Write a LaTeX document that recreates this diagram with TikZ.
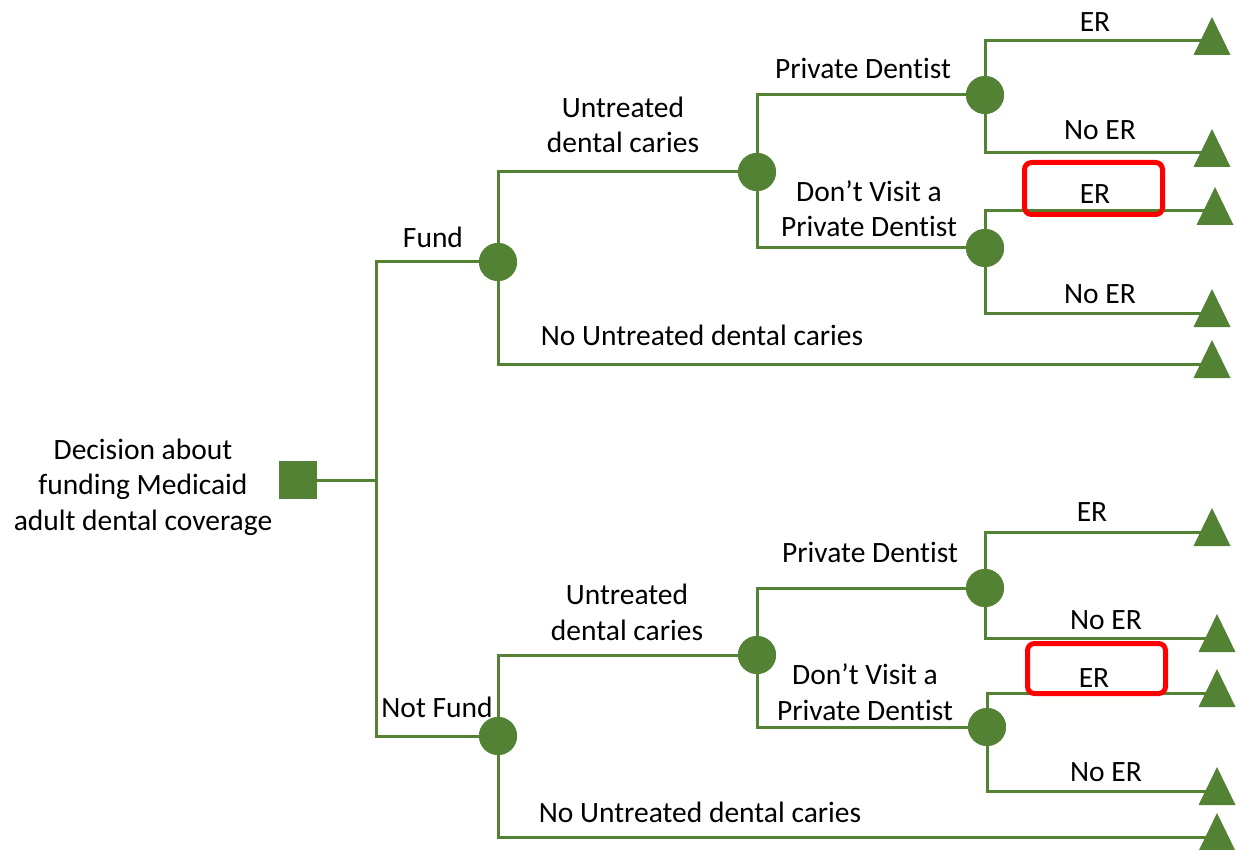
\documentclass[tikz,border=0pt]{standalone}
\usepackage{fontspec}
\setmainfont[Ligatures={NoCommon}]{Carlito}
\definecolor{tg}{HTML}{548235}
\definecolor{hlred}{HTML}{FF0000}
\tikzset{
  br/.style={draw=tg, line width=3pt},
  chance/.style={circle, fill=tg, minimum size=38pt, inner sep=0pt},
  decsq/.style={rectangle, fill=tg, minimum size=38pt, inner sep=0pt},
  lbl/.style={font=\fontsize{29.5}{35.5}\selectfont, inner sep=0pt, anchor=base, align=center},
  hlbox/.style={draw=hlred, line width=5pt, rounded corners=7pt},
  leaf/.pic={\fill[tg] (-18.5,14) -- (0,-24) -- (18.5,14) -- cycle;}
}
\begin{document}
\begin{tikzpicture}[x=1pt,y=-1pt]
\useasboundingbox (0,0) rectangle (1236,850);
% decision
\node[decsq] (dec) at (298,480) {};
\coordinate (j) at (376,480);
\node[chance] (F) at (498,262) {};
\node[chance] (NF) at (498,736) {};
% fund subtree
\node[chance] (U1) at (757,172) {};
\node[chance] (P1) at (985,95) {};
\node[chance] (D1) at (985,248) {};
\coordinate (e1) at (1212,41);
\coordinate (e2) at (1212,153);
\coordinate (e3) at (1215,211);
\coordinate (e4) at (1212,313);
\coordinate (e5) at (1212,364);
% not fund subtree
\node[chance] (U2) at (757,655) {};
\node[chance] (P2) at (985,588) {};
\node[chance] (D2) at (987,727) {};
\coordinate (f1) at (1212,532);
\coordinate (f2) at (1217,638);
\coordinate (f3) at (1217,693);
\coordinate (f4) at (1217,791);
\coordinate (f5) at (1217,837);
% connectors
\draw[br] (dec) -- (j);
\draw[br] (j) |- (F.center);
\draw[br] (j) |- (NF.center);
\draw[br] (F.center) |- (U1.center);
\draw[br] (F.center) |- (e5);
\draw[br] (U1.center) |- (P1.center);
\draw[br] (U1.center) |- (D1.center);
\draw[br] (P1.center) |- (e1);
\draw[br] (P1.center) |- (e2);
\draw[br] (D1.center) |- (e3);
\draw[br] (D1.center) |- (e4);
\draw[br] (NF.center) |- (U2.center);
\draw[br] (NF.center) |- (f5);
\draw[br] (U2.center) |- (P2.center);
\draw[br] (U2.center) |- (D2.center);
\draw[br] (P2.center) |- (f1);
\draw[br] (P2.center) |- (f2);
\draw[br] (D2.center) |- (f3);
\draw[br] (D2.center) |- (f4);
% redraw nodes on top
\node[decsq] at (dec) {};
\foreach \n in {F,NF,U1,P1,D1,U2,P2,D2} \node[chance] at (\n) {};
% leaves
\foreach \c in {e1,e2,e3,e4,e5,f1,f2,f3,f4,f5} \pic at (\c) {leaf};
% labels (base = baseline of last line)
\node[lbl] (tdec) at (143,530) {Decision about\\funding Medicaid\\adult dental coverage};
\node[lbl] (tfund) at (433,248) {Fund};
\node[lbl] (tnfund) at (437,717) {Not Fund};
\node[lbl] (tu1) at (623,153) {Untreated\\dental caries};
\node[lbl] (tu2) at (627,640) {Untreated\\dental caries};
\node[lbl] (tn1) at (702,345) {No Untreated dental caries};
\node[lbl] (tn2) at (700,822) {No Untreated dental caries};
\node[lbl] (tp1) at (863,79) {Private Dentist};
\node[lbl] (tp2) at (870,562) {Private Dentist};
\node[lbl] (td1) at (869,237) {Don’t Visit a\\Private Dentist};
\node[lbl] (td2) at (865,720) {Don’t Visit a\\Private Dentist};
\node[lbl] (ter1) at (1095,32) {ER};
\node[lbl] (tne1) at (1100,140) {No ER};
\node[lbl] (ter2) at (1095,204) {ER};
\node[lbl] (tne2) at (1100,303) {No ER};
\node[lbl] (ter3) at (1092,521) {ER};
\node[lbl] (tne3) at (1106,629) {No ER};
\node[lbl] (ter4) at (1094,687) {ER};
\node[lbl] (tne4) at (1106,781) {No ER};
% highlight boxes
\draw[hlbox] (1024.5,162.5) rectangle (1162.5,214.5);
\draw[hlbox] (1027.5,643.5) rectangle (1165.5,693.5);
\end{tikzpicture}
\end{document}
